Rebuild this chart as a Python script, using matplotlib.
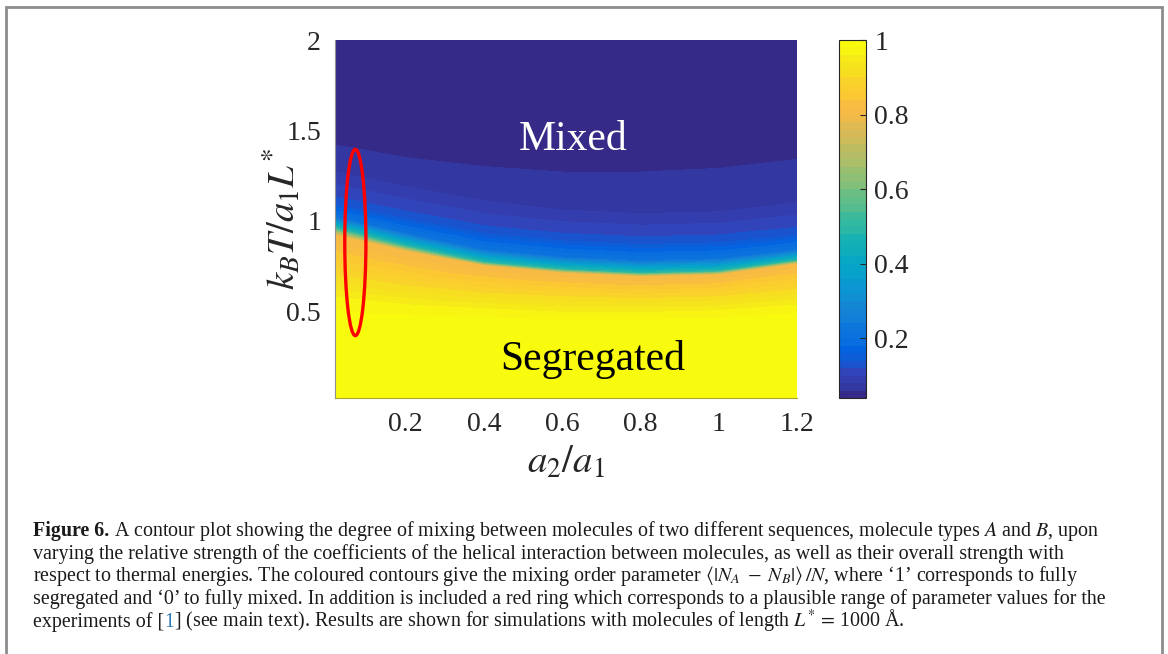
import numpy as np
import matplotlib
matplotlib.use('Agg')
import matplotlib.pyplot as plt
import matplotlib.tri as mtri
from matplotlib.colors import LinearSegmentedColormap
from matplotlib.patches import Ellipse, Rectangle

plt.rcParams['font.family'] = ['Liberation Serif', 'DejaVu Serif']
plt.rcParams['mathtext.fontset'] = 'stix'

# positions (kBT/a1L*) of contour levels in each column of a2/a1
a_cols = [0.02, 0.2, 0.4, 0.6, 0.8, 1.0, 1.2]
level_vals = [1.0, 1.0, 0.97, 0.9, 0.8, 0.5, 0.22, 0.13, 0.08, 0.06, 0.04, 0.04]
level_y = [
    [0.02, 0.02, 0.02, 0.02, 0.02, 0.02, 0.02],
    [0.40, 0.40, 0.40, 0.40, 0.40, 0.40, 0.42],
    [0.56, 0.52, 0.50, 0.48, 0.48, 0.49, 0.52],
    [0.70, 0.64, 0.60, 0.58, 0.57, 0.58, 0.62],
    [0.92, 0.83, 0.75, 0.71, 0.69, 0.70, 0.76],
    [0.96, 0.86, 0.77, 0.73, 0.71, 0.72, 0.78],
    [1.02, 0.93, 0.84, 0.80, 0.78, 0.79, 0.84],
    [1.10, 1.02, 0.94, 0.90, 0.88, 0.89, 0.93],
    [1.27, 1.19, 1.11, 1.06, 1.04, 1.05, 1.10],
    [1.42, 1.35, 1.30, 1.27, 1.27, 1.29, 1.34],
    [1.45, 1.38, 1.33, 1.30, 1.30, 1.32, 1.37],
    [2.00, 2.00, 2.00, 2.00, 2.00, 2.00, 2.00],
]
ring_a, ring_y = 0.072, 0.88
ring_w, ring_h = 0.054, 1.03
xticks = [0.2, 0.4, 0.6, 0.8, 1.0, 1.2]
xticklabels = ['0.2', '0.4', '0.6', '0.8', '1', '1.2']
yticks = [0.5, 1.0, 1.5, 2.0]
yticklabels = ['0.5', '1', '1.5', '2']
cticks = [0.2, 0.4, 0.6, 0.8, 1.0]
cticklabels = ['0.2', '0.4', '0.6', '0.8', '1']

# parula-like colormap
parula = [
    (0.2081, 0.1663, 0.5292), (0.1959, 0.2645, 0.7279), (0.0117, 0.3875, 0.8820),
    (0.0498, 0.4586, 0.8641), (0.0793, 0.5200, 0.8312), (0.0343, 0.5966, 0.8199),
    (0.0228, 0.6535, 0.7768), (0.0843, 0.6928, 0.7062), (0.2178, 0.7250, 0.6193),
    (0.3953, 0.7459, 0.5244), (0.5709, 0.7485, 0.4494), (0.7184, 0.7411, 0.3905),
    (0.8507, 0.7299, 0.3360), (0.9739, 0.7314, 0.2666), (0.9880, 0.8066, 0.1794),
    (0.9589, 0.8949, 0.1132), (0.9763, 0.9831, 0.0538)]
cmap = LinearSegmentedColormap.from_list('parula', parula, N=64)

# triangulation of the read points
nr, nc = len(level_vals), len(a_cols)
px = np.tile(a_cols, nr)
py = np.array(level_y).ravel()
pz = np.repeat(level_vals, nc)
tris = []
for i in range(nr - 1):
    for j in range(nc - 1):
        k = i * nc + j
        tris.append([k, k + 1, k + nc + 1])
        tris.append([k, k + nc + 1, k + nc])
tri = mtri.Triangulation(px, py, tris)

fig = plt.figure(figsize=(11.68, 6.54), dpi=100)
ax = fig.add_axes([0.2868, 0.3914, 0.3956, 0.5474])
levels = np.linspace(0.04, 1.0, 49)
levels[0] = 0.0399
levels[-1] = 1.0001
cs = ax.tricontourf(tri, pz, levels=levels, cmap=cmap, vmin=0.04, vmax=1.0)
ax.set_xlim(0.02, 1.2)
ax.set_ylim(0.02, 2.0)
ax.add_patch(Ellipse((ring_a, ring_y), ring_w, ring_h, fill=False,
                     edgecolor='#ff0000', lw=2.4))
ax.text(0.628, 1.39, 'Mixed', color='white', fontsize=30, ha='center', va='baseline')
ax.text(0.679, 0.175, 'Segregated', color='black', fontsize=30, ha='center', va='baseline')
ax.set_xticks(xticks)
ax.set_xticklabels(xticklabels)
ax.set_yticks(yticks)
ax.set_yticklabels(yticklabels)
ax.tick_params(direction='in', length=0, labelsize=20, labelcolor='#262626', pad=10)
ax.spines['top'].set_visible(False)
ax.spines['right'].set_visible(False)
ax.spines['left'].set_color('#909090')
ax.spines['bottom'].set_color('#a8a830')
ax.spines['left'].set_linewidth(0.8)
ax.spines['bottom'].set_linewidth(0.8)
ax.set_xlabel(r'$a_{\mathit{2}}/a_{\mathit{1}}$', fontsize=28, color='#262626', labelpad=6)
ax.set_ylabel(r'$k_{B}T/a_{\mathit{1}}L^{*}$', fontsize=28, color='#262626')
ax.yaxis.set_label_coords(-0.067, 0.5)

cax = fig.add_axes([0.7183, 0.3914, 0.0231, 0.5474])
cb = fig.colorbar(cs, cax=cax, ticks=cticks)
cb.ax.set_yticklabels(cticklabels)
cb.ax.set_ylim(0.04, 1.0)
cb.ax.tick_params(direction='in', length=4, width=0.8, labelsize=20,
                  labelcolor='#262626', color='#262626', pad=6)
cb.outline.set_linewidth(0.8)
cb.outline.set_edgecolor('#262626')

# frame round the figure
fig.add_artist(Rectangle((6 / 1168, -0.05), 1156 / 1168, 1 - 7 / 654 + 0.05,
                         transform=fig.transFigure, fill=False,
                         edgecolor='#8c8c8c', lw=2))

# caption
cap = fig.add_axes([0, 0, 1, 1])
cap.axis('off')
cap.set_xlim(0, 1)
cap.set_ylim(0, 1)
fs = 14.4
x0 = 33 / 1168
base = [536, 559, 581.5, 604, 627]
yb = [1 - b / 654 for b in base]


def chain(prev, s, y, **kw):
    return cap.annotate(s, xy=(1, y), xycoords=(prev, 'figure fraction'),
                        ha='left', va='baseline', fontsize=fs, color='#1a1a1a', **kw)


t = cap.text(x0, yb[0], 'Figure 6.', fontsize=fs, fontweight='bold',
             ha='left', va='baseline', color='#1a1a1a')
chain(t, ' A contour plot showing the degree of mixing between molecules of two different '
         'sequences, molecule types $A$ and $B$, upon', yb[0])
cap.text(x0, yb[1], 'varying the relative strength of the coefficients of the helical interaction '
         'between molecules, as well as their overall strength with',
         fontsize=fs, ha='left', va='baseline', color='#1a1a1a')
cap.text(x0, yb[2], 'respect to thermal energies. The coloured contours give the mixing order '
         'parameter $\\langle|N_A\\;-\\;N_B|\\rangle\\,/N$, where \u20181\u2019 corresponds to fully',
         fontsize=fs, ha='left', va='baseline', color='#1a1a1a')
cap.text(x0, yb[3], 'segregated and \u20180\u2019 to fully mixed. In addition is included a red ring '
         'which corresponds to a plausible range of parameter values for the',
         fontsize=fs, ha='left', va='baseline', color='#1a1a1a')
t = cap.text(x0, yb[4], 'experiments of [', fontsize=fs, ha='left', va='baseline', color='#1a1a1a')
t = chain(t, '1', yb[4])
t.set_color('#2a7ab8')
chain(t, '] (see main text). Results are shown for simulations with molecules of length '
         '$L^{*}\\,=\\,$1000 \u00c5.', yb[4])

fig.savefig('out.png', dpi=100)
